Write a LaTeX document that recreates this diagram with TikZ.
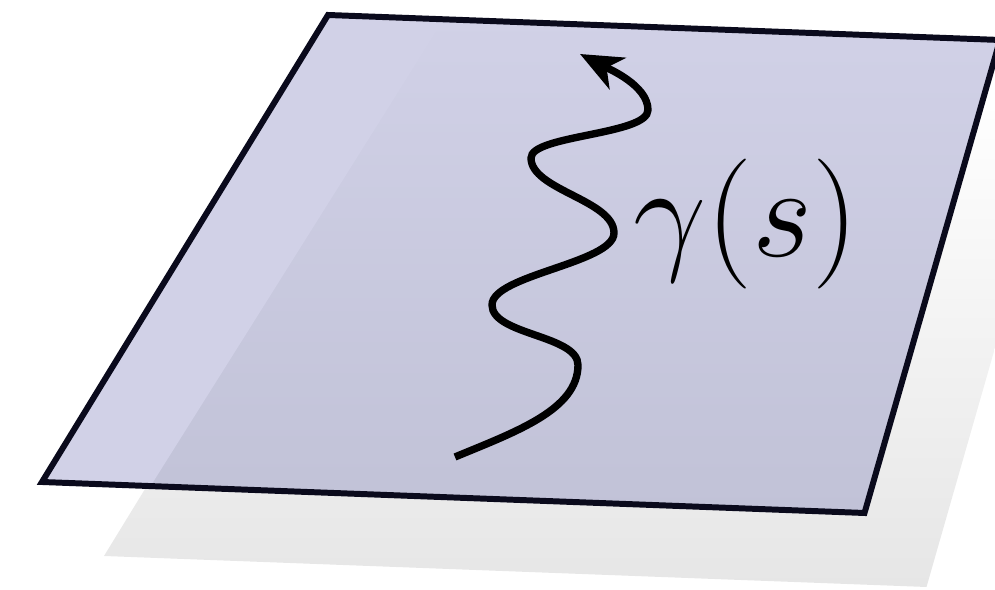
\RequirePackage{fix-cm}
\documentclass[tikz,border=0pt]{standalone}
\usepackage{amsmath}
\usepackage{amssymb}
\usetikzlibrary{arrows.meta}
\definecolor{planetop}{RGB}{209,209,231}
\definecolor{planebot}{RGB}{193,194,215}
\definecolor{planeedge}{RGB}{10,10,28}
\definecolor{shadowgray}{RGB}{230,230,230}
\begin{document}
\begin{tikzpicture}[
        edge/.style = {line width = 1.7pt, draw = planeedge, line join = miter},
        trail/.style = {line width = 2.1pt, -{Stealth[length = 12pt, width = 10pt, inset = 3.5pt]}}
    ]
        \useasboundingbox (0,0) rectangle (9.95,-5.90);
        \clip (0,0) rectangle (9.95,-5.90);
        \coordinate (tl) at (3.28,-0.15);
        \coordinate (tr) at (10.00,-0.40);
        \coordinate (br) at (8.645,-5.13);
        \coordinate (bl) at (0.42,-4.82);
        \shade[top color = white, bottom color = shadowgray]
            ([shift = {(.62,-.74)}]tl) -- ([shift = {(.62,-.74)}]tr) -- ([shift = {(.62,-.74)}]br) -- ([shift = {(.62,-.74)}]bl) -- cycle;
        \shade[top color = planetop, bottom color = planebot] (tl) -- (tr) -- (br) -- (bl) -- cycle;
        \fill[planetop] (bl) -- (1.50,-4.87) -- (4.44,-0.19) -- (tl) -- cycle;
        \draw[edge] (tl) -- (tr) -- (br) -- (bl) -- cycle;
        \coordinate (start) at (4.55,-4.57);
        \coordinate (tip) at (5.80,-0.54);
        \draw[trail] (start) .. controls (5.15,-4.32) and (5.78,-4.10) .. (5.78,-3.65)
            .. controls (5.78,-3.35) and (4.92,-3.35) .. (4.92,-3.05)
            .. controls (4.92,-2.75) and (6.14,-2.63) .. (6.14,-2.33)
            .. controls (6.14,-2.00) and (5.31,-1.90) .. (5.31,-1.58)
            .. controls (5.31,-1.35) and (6.48,-1.35) .. (6.48,-1.10)
            .. controls (6.48,-0.85) and (6.07,-0.68) .. (tip);
        \node[anchor = base west, inner sep = 0, font = \fontsize{37}{40}\selectfont] (gamma) at (6.33,-2.57) {$\gamma(s)$};
    \end{tikzpicture}
\end{document}
